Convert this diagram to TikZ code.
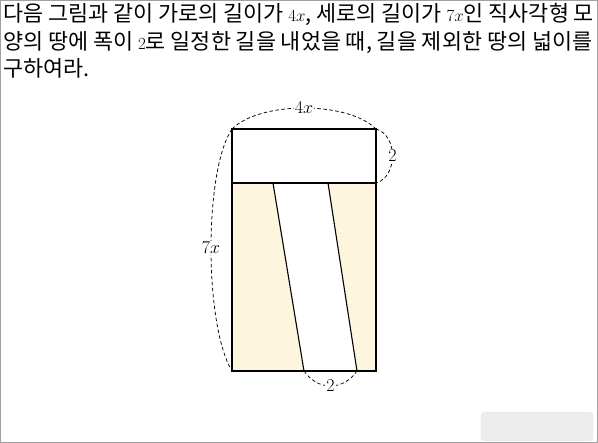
\RequirePackage{fix-cm}
\documentclass[tikz,border=0pt]{standalone}
\usepackage{fontspec}
\newfontfamily\kofont{Noto Sans CJK KR}
\usetikzlibrary{positioning}
\definecolor{landfill}{RGB}{254,245,222}
\definecolor{framegray}{RGB}{160,160,160}
\newcommand{\tm}[1]{{\fontsize{17}{20}\selectfont$#1$}}
\tikzset{%
	textline/.style = {anchor=base west, inner sep=0pt, font=\fontsize{21.8}{26}\kofont}, % paragraph
	land/.style     = {fill=landfill}, % remaining land
	edge/.style     = {line width=1.1pt}, % outline
	dim/.style      = {line width=0.75pt, dash pattern=on 3.5pt off 2.5pt}, % measure arc
	dimlabel/.style = {fill=white, inner sep=1pt, font=\fontsize{18}{20}\selectfont}, % measure label
}
\begin{document}
\begin{tikzpicture}[x=1pt,y=1pt]
		\useasboundingbox (0,0) rectangle (598,-443);
		\draw[framegray] (0.5,-0.5) rectangle (597.5,-442.5);
		\node[textline] (l1) at (3,-22) {다음 그림과 같이 가로의 길이가 \tm{4x}, 세로의 길이가 \tm{7x}인 직사각형 모};
		\node[textline] (l2) at (3,-49.5) {양의 땅에 폭이 \tm{2}로 일정한 길을 내었을 때, 길을 제외한 땅의 넓이를};
		\node[textline] (l3) at (3,-77) {구하여라.};
		
		\coordinate (A) at (232,-129);
		\coordinate (B) at (376,-129);
		\coordinate (C) at (376,-371);
		\coordinate (D) at (232,-371);
		\coordinate (E) at (232,-183);
		\coordinate (F) at (376,-183);
		\coordinate (P1) at (273,-183);
		\coordinate (P2) at (328,-183);
		\coordinate (Q1) at (304,-371);
		\coordinate (Q2) at (357,-371);
		
		\fill[land] (E) -- (P1) -- (Q1) -- (D) -- cycle;
		\fill[land] (P2) -- (F) -- (C) -- (Q2) -- cycle;
		\draw[edge] (A) rectangle (C);
		\draw[edge] (E) -- (F);
		\draw[edge] (P1) -- (Q1);
		\draw[edge] (P2) -- (Q2);
		
		\draw[dim] (A) .. controls (260,-101) and (348,-101) .. node[dimlabel] (w) {$4x$} (B);
		\draw[dim] (B) .. controls (398,-135) and (398,-177) .. node[dimlabel] (r) {$2$} (F);
		\draw[dim] (A) .. controls (204,-170) and (204,-325) .. node[dimlabel] (h) {$7x$} (D);
		\draw[dim] (Q1) .. controls (318,-391) and (343,-391) .. node[dimlabel] (b) {$2$} (Q2);
		
		\draw[draw=black!10, fill=black!7, rounded corners=4pt] (481,-412) rectangle (593,-441);
		\end{tikzpicture}
\end{document}
